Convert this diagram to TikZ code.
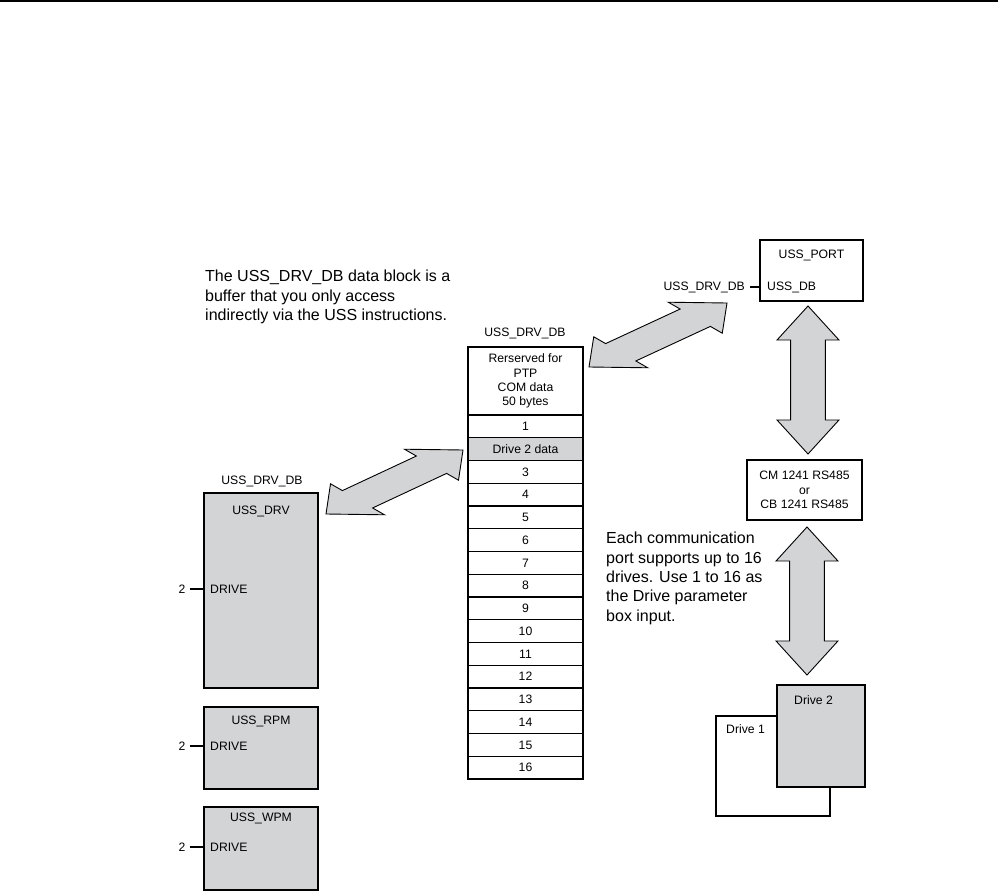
\documentclass[tikz,border=0pt]{standalone}
\usepackage{fontspec}
\setmainfont{Liberation Sans}
\usepackage{tikz}
\usetikzlibrary{calc,positioning}
\definecolor{boxgray}{RGB}{211,212,214}
% fat grey double arrow between two tips, #3 = half width of the heads
\newcommand{\fatarrow}[3]{%
  \draw[fat] (#1)
    -- ($(#1)!0.23!(#2)+#3$) -- ($(#1)!0.23!(#2)+0.56*#3$)
    -- ($(#1)!0.77!(#2)+0.56*#3$) -- ($(#1)!0.77!(#2)+#3$)
    -- (#2)
    -- ($(#1)!0.77!(#2)-#3$) -- ($(#1)!0.77!(#2)-0.56*#3$)
    -- ($(#1)!0.23!(#2)-0.56*#3$) -- ($(#1)!0.23!(#2)-#3$) -- cycle;}

\begin{document}
\begin{tikzpicture}[x=1pt,y=-1pt,
  lab/.style={font=\fontsize{12.2}{14.3}\selectfont,inner sep=0pt},
  txt/.style={font=\fontsize{16}{19.4}\selectfont,align=left,inner sep=0pt,anchor=north west},
  cell/.style={draw,line width=1.1pt,minimum width=115pt,minimum height=22.75pt,inner sep=0pt,font=\fontsize{12.2}{14.3}\selectfont},
  fb/.style={draw,line width=1.2pt,fill=boxgray,minimum width=114pt,inner sep=0pt},
  wbox/.style={draw,line width=1.2pt,fill=white,inner sep=0pt},
  pin/.style={line width=1.2pt},
  fat/.style={line width=0.9pt,draw,fill=boxgray,line join=miter}]
  \useasboundingbox (0,0) rectangle (998,893);
  \draw[line width=1.7pt] (0,1) -- (998,1);

  % notes
  \node[txt] (intro) at (205,270) {The USS\_DRV\_DB data block is a\\buffer that you only access\\indirectly via the USS instructions.};
  \node[txt] (note) at (606,532) {Each communication\\port supports up to 16\\drives. Use 1 to 16 as\\the Drive parameter\\box input.};

  % data block
  \node[lab] (dbname) at (525,333) {USS\_DRV\_DB};
  \node[cell,align=center,minimum height=68pt] (rsv) at (525.5,381) {Rerserved for\\PTP\\COM data\\50 bytes};
  \foreach \i in {1,3,4,...,16} {\node[cell] (r\i) at (525.5,{415+(\i-0.5)*22.75}) {\i};}
  \node[cell,fill=boxgray] (r2) at (525.5,{415+1.5*22.75}) {Drive 2 data};

  % instruction boxes
  \node[lab] (drvdb) at (262,481) {USS\_DRV\_DB};
  \foreach \n/\t/\cy/\h/\ty/\dy in {drv/USS\_DRV/590.5/195/511/589,rpm/USS\_RPM/748/82/721/746,wpm/USS\_WPM/848.5/83/818/847} {
    \node[fb,minimum height=\h pt] (\n) at (261,\cy) {};
    \node[lab] (\n name) at (261,\ty) {\t};
    \node[lab,anchor=west] (\n in) at (210,\dy) {DRIVE};
    \node[lab] (\n num) at (182,\dy) {2};
    \draw[pin] ([xshift=4pt]\n num.east) -- (\n.west |- \n num.east);
  }

  % port, module, drives
  \node[wbox,minimum width=103pt,minimum height=61pt] (port) at (811.5,270.5) {};
  \node[lab] (portname) at (811.5,255) {USS\_PORT};
  \node[lab,anchor=west] (portin) at (767,287) {USS\_DB};
  \node[lab,anchor=east] (portdb) at (745,287) {USS\_DRV\_DB};
  \draw[pin] ([xshift=5pt]portdb.east) -- (port.west |- portdb.east);
  \node[wbox,lab,align=center,minimum width=115pt,minimum height=60pt] (cm) at (804.5,490) {CM 1241 RS485\\or\\CB 1241 RS485};
  \node[wbox,minimum width=114pt,minimum height=100pt] (drive1) at (773,766) {};
  \node[lab,anchor=west] (d1name) at (726,729) {Drive 1};
  \node[fb,minimum width=88pt,minimum height=102pt] (drive2) at (821,736) {};
  \node[lab,anchor=west] (d2name) at (794,700) {Drive 2};

  % arrows
  \coordinate (p1) at (589,367); \coordinate (p2) at (727,303);
  \coordinate (q1) at (326,514); \coordinate (q2) at (463,450);
  \coordinate (u1) at (808,306); \coordinate (u2) at (808,454);
  \coordinate (w1) at (807,527); \coordinate (w2) at (807,675);
  \fatarrow{p1}{p2}{(-27,-15.5)}
  \fatarrow{q1}{q2}{(-27,-15.5)}
  \fatarrow{u1}{u2}{(31,0)}
  \fatarrow{w1}{w2}{(31,0)}
\end{tikzpicture}
\end{document}
